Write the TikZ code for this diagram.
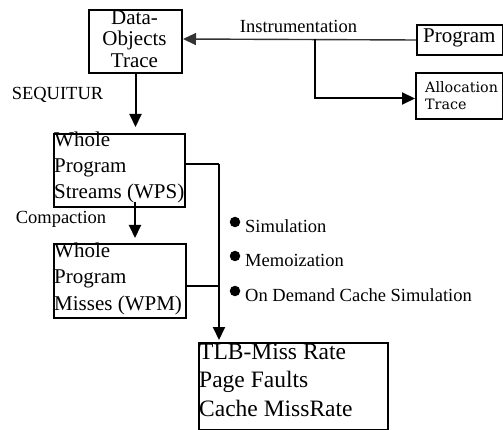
\documentclass[tikz,border=0pt]{standalone}
\usepackage{fontspec}
\setmainfont{Liberation Serif}
\newfontfamily\allocfont{DejaVu Serif}
\usetikzlibrary{arrows.meta}
\begin{document}
\begin{tikzpicture}[x=1pt,y=-1pt,
  box/.style={draw,line width=2pt,inner sep=0pt,anchor=north west},
  conn/.style={line width=2pt},
  tip/.style={-{Triangle[length=13pt,width=12pt]}},
  lbl/.style={inner sep=0pt,font=\fontsize{18.5}{22}\selectfont},
  dotb/.style={circle,fill,inner sep=0pt,minimum size=10.5pt}]
\useasboundingbox (0,0) rectangle (503,430);
% boxes
\node[box,minimum width=93pt,minimum height=63pt] (dot) at (88,9) {};
\node[inner sep=0pt,align=center,font=\fontsize{21}{21.5}\selectfont] (dott) at (134.5,39) {Data-\\Objects\\Trace};
\node[box,minimum width=86pt,minimum height=30pt] (prog) at (416,24.5) {};
\node[inner sep=0pt,anchor=west,font=\fontsize{21}{21}\selectfont] (progt) at (423,38) {Program};
\node[box,minimum width=87pt,minimum height=46pt] (alloc) at (415,72) {};
\node[inner sep=0pt,anchor=west,align=left,font=\allocfont\fontsize{14.3}{17.5}\selectfont] (alloct) at (425,95.5) {Allocation\\Trace};
\node[box,minimum width=131pt,minimum height=73pt] (wps) at (53,133) {};
\node[inner sep=0pt,anchor=west,align=left,font=\fontsize{21}{26}\selectfont] (wpst) at (54,167) {Whole\\Program\\Streams (WPS)};
\node[box,minimum width=132pt,minimum height=74pt] (wpm) at (53,243) {};
\node[inner sep=0pt,anchor=west,align=left,font=\fontsize{21}{26.5}\selectfont] (wpmt) at (54,278.5) {Whole\\Program\\Misses (WPM)};
\node[box,minimum width=189pt,minimum height=87pt] (tlb) at (198,342) {};
\node[inner sep=0pt,anchor=west,align=left,font=\fontsize{23.5}{28.5}\selectfont] (tlbt) at (199,380) {TLB-Miss Rate\\Page Faults\\Cache MissRate};
% labels
\node[lbl] (instr) at (298.5,26) {Instrumentation};
\node[lbl] (seq) at (57.5,95) {SEQUITUR};
\node[lbl] (comp) at (61,219) {Compaction};
\node[lbl,anchor=west] (sim) at (245,226) {Simulation};
\node[lbl,anchor=west] (memo) at (245,260) {Memoization};
\node[lbl,anchor=west] (odcs) at (245,295) {On Demand Cache Simulation};
\node[dotb] (b1) at (235,222) {};
\node[dotb] (b2) at (235,256) {};
\node[dotb] (b3) at (235,291) {};
% connectors
\coordinate (br) at (315,39);
\coordinate (j1) at (219,164);
\coordinate (j2) at (219,286);
\draw[line width=1.4pt,color=black!80,-{Triangle[length=13pt,width=12pt]}] ([yshift=0.5pt]prog.west) -- (dot.east |- br);
\draw[conn,tip] (br) |- ([yshift=-2.5pt]alloc.west);
\draw[conn,tip,shorten >=6pt] (dot.south) -- (dot.south |- wps.north);
\draw[conn,tip,shorten >=5pt] ([xshift=15.5pt,yshift=6pt]wps.south) -- ([xshift=15.5pt]wps.south |- wpm.north);
\draw[conn] (wps.east |- j1) -- (j1);
\draw[conn] (wpm.east |- j2) -- (j2);
\draw[conn,tip,shorten >=2pt] (j1) -- (j1 |- tlb.north);
\end{tikzpicture}
\end{document}
